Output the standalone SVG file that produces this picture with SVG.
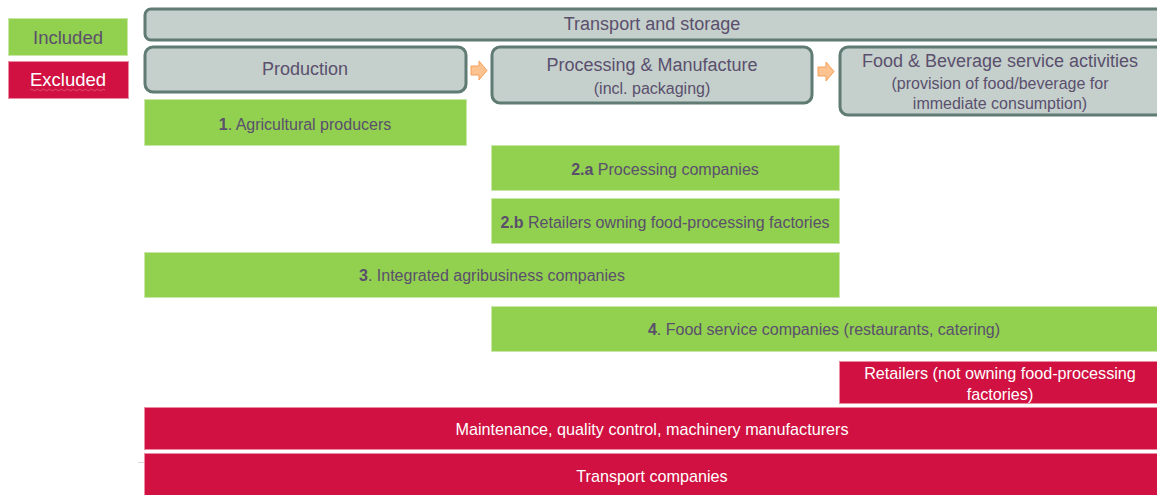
<svg xmlns="http://www.w3.org/2000/svg" width="1157" height="495" viewBox="0 0 1157 495">
  <style>
    text { font-family: "Liberation Sans", Arial, sans-serif; text-anchor: middle; dominant-baseline: central; }
    .stage { fill: #c5cfcc; stroke: #5f7b73; stroke-width: 3; }
    .stage-t { fill: #5a4f6c; font-size: 18px; }
    .stage-s { fill: #5a4f6c; font-size: 16px; }
    .inc { fill: #92d050; stroke: #c9e8a8; stroke-width: 1; }
    .exc { fill: #d01141; stroke: #ea8ca2; stroke-width: 1; }
    .inc-t { fill: #5a4f6c; font-size: 16px; }
    .exc-t { fill: #ffffff; font-size: 16.2px; }
    .legend-t { font-size: 18.5px; }
    .flow { fill: #fcc28f; stroke: #f4a05a; stroke-width: 1; }
  </style>

  <!-- legend -->
  <g id="legend-included">
    <rect class="inc" x="8.5" y="18.5" width="119" height="37"/>
    <text class="inc-t legend-t" x="68" y="37">Included</text>
  </g>
  <g id="legend-excluded">
    <rect class="exc" x="8.5" y="61.5" width="120" height="37"/>
    <text class="exc-t legend-t" x="68" y="79">Excluded</text>
    <path d="M30 90 q1.5 -1.5 3 0 t3 0 t3 0 t3 0 t3 0 t3 0 t3 0 t3 0 t3 0 t3 0 t3 0 t3 0 t3 0 t3 0 t3 0 t3 0 t3 0 t3 0 t3 0 t3 0 t3 0 t3 0 t3 0 t3 0 t3 0" fill="none" stroke="#e0607a" stroke-width="0.8"/>
  </g>

  <!-- value-chain stages -->
  <g id="transport-storage">
    <rect class="stage" x="145" y="9" width="1020" height="31" rx="6"/>
    <text class="stage-t" x="652" y="24">Transport and storage</text>
  </g>
  <g id="production">
    <rect class="stage" x="145" y="47" width="321" height="45" rx="8"/>
    <text class="stage-t" x="305" y="69">Production</text>
  </g>
  <g id="processing">
    <rect class="stage" x="492" y="47" width="320" height="56" rx="8"/>
    <text class="stage-t" x="652" y="65">Processing &amp; Manufacture</text>
    <text class="stage-s" x="652" y="88">(incl. packaging)</text>
  </g>
  <g id="food-service">
    <rect class="stage" x="840" y="47" width="330" height="68" rx="8"/>
    <text class="stage-t" x="1000" y="61">Food &amp; Beverage service activities</text>
    <text class="stage-s" x="1000" y="83">(provision of food/beverage for</text>
    <text class="stage-s" x="1000" y="103">immediate consumption)</text>
  </g>

  <!-- flow arrows between stages -->
  <g id="connectors">
    <path class="flow" d="M471 66 h8 v-5 l8 9.5 l-8 9.5 v-5 h-8 z"/>
    <path class="flow" d="M818 67 h8 v-5 l8 9.5 l-8 9.5 v-5 h-8 z"/>
  </g>

  <!-- included actors -->
  <g id="agri-producers">
    <rect class="inc" x="144.5" y="99.5" width="322" height="46"/>
    <text class="inc-t" x="305" y="124"><tspan font-weight="bold">1</tspan>. Agricultural producers</text>
  </g>
  <g id="processing-companies">
    <rect class="inc" x="491.5" y="145.5" width="348" height="45"/>
    <text class="inc-t" x="665" y="169"><tspan font-weight="bold">2.a</tspan> Processing companies</text>
  </g>
  <g id="retailers-owning">
    <rect class="inc" x="491.5" y="198.5" width="348" height="45"/>
    <text class="inc-t" x="665" y="222"><tspan font-weight="bold">2.b</tspan> Retailers owning food-processing factories</text>
  </g>
  <g id="integrated-agribusiness">
    <rect class="inc" x="144.5" y="252.5" width="695" height="45"/>
    <text class="inc-t" x="492" y="275"><tspan font-weight="bold">3</tspan>. Integrated agribusiness companies</text>
  </g>
  <g id="food-service-companies">
    <rect class="inc" x="491.5" y="306.5" width="670" height="45"/>
    <text class="inc-t" x="824" y="329"><tspan font-weight="bold">4</tspan>. Food service companies (restaurants, catering)</text>
  </g>

  <!-- excluded actors -->
  <g id="retailers-not-owning">
    <rect class="exc" x="839.5" y="361.5" width="320" height="42"/>
    <text class="exc-t" x="1000" y="373">Retailers (not owning food-processing</text>
    <text class="exc-t" x="1000" y="394">factories)</text>
  </g>
  <g id="maintenance">
    <rect class="exc" x="144.5" y="407.5" width="1020" height="42"/>
    <text class="exc-t" x="652" y="429">Maintenance, quality control, machinery manufacturers</text>
  </g>
  <g id="transport-companies">
    <rect class="exc" x="144.5" y="453.5" width="1020" height="45"/>
    <text class="exc-t" x="652" y="476">Transport companies</text>
  </g>

  <line x1="138" y1="462.5" x2="144" y2="462.5" stroke="#d9d9d9" stroke-width="1"/>
</svg>
